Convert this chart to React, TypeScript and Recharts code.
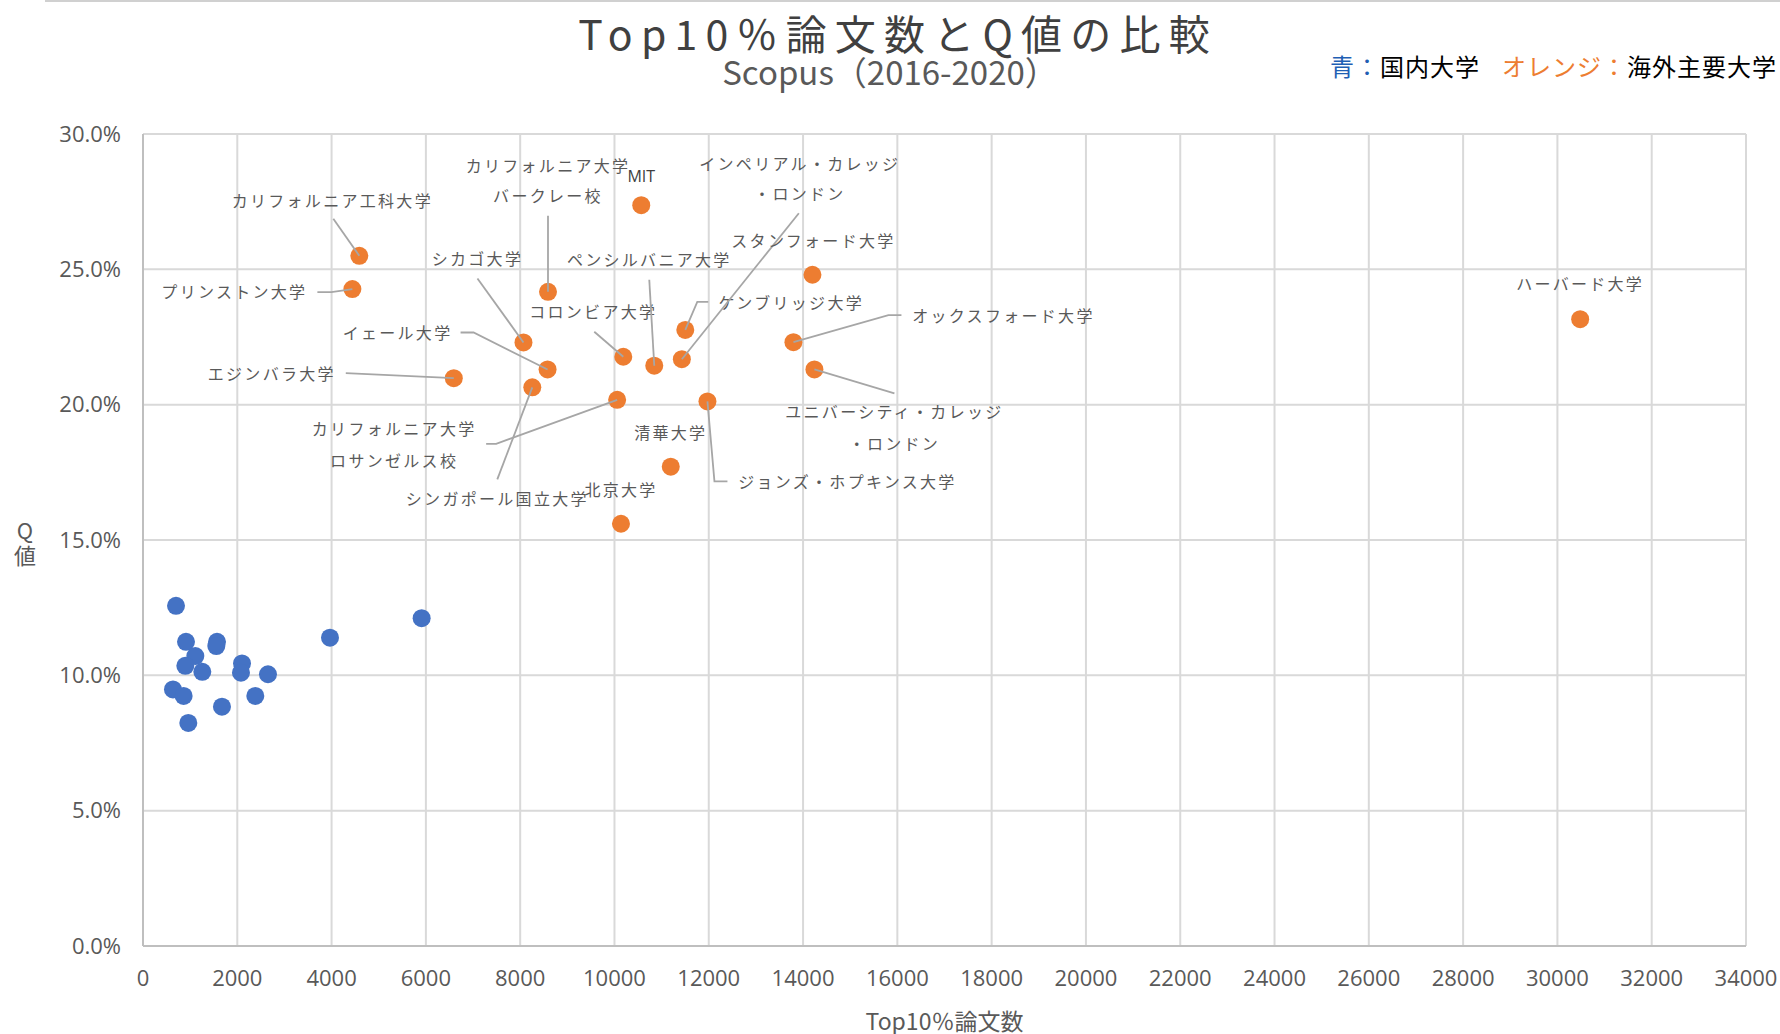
import { ScatterChart, Scatter, XAxis, YAxis, CartesianGrid } from 'recharts'

// 国内大学（青）
const domesticPapers = [700, 912, 1570, 1555, 1110, 898, 1258, 2100, 2078, 2651, 636, 862, 1675, 2382, 961, 3966, 5910]
const domesticQ = [12.57, 11.24, 11.24, 11.08, 10.71, 10.35, 10.13, 10.44, 10.1, 10.04, 9.48, 9.24, 8.84, 9.24, 8.24, 11.39, 12.11]

// 海外主要大学（オレンジ）
const overseasNames = [
  'MIT',
  'カリフォルニア工科大学',
  'プリンストン大学',
  'カリフォルニア大学バークレー校',
  'シカゴ大学',
  'イェール大学',
  'エジンバラ大学',
  'シンガポール国立大学',
  'コロンビア大学',
  'カリフォルニア大学ロサンゼルス校',
  'ペンシルバニア大学',
  'ケンブリッジ大学',
  'インペリアル・カレッジ・ロンドン',
  'ジョンズ・ホプキンス大学',
  '清華大学',
  '北京大学',
  'スタンフォード大学',
  'オックスフォード大学',
  'ユニバーシティ・カレッジ・ロンドン',
  'ハーバード大学',
]
const overseasPapers = [10568, 4588, 4441, 8590, 8070, 8581, 6592, 8257, 10187, 10057, 10844, 11502, 11429, 11972, 11194, 10138, 14199, 13796, 14241, 30483]
const overseasQ = [27.37, 25.5, 24.27, 24.17, 22.3, 21.3, 20.98, 20.64, 21.77, 20.18, 21.44, 22.76, 21.68, 20.12, 17.71, 15.6, 24.8, 22.31, 21.3, 23.16]

const xTicks = [0, 2000, 4000, 6000, 8000, 10000, 12000, 14000, 16000, 18000, 20000, 22000, 24000, 26000, 28000, 30000, 32000, 34000]
const yTicks = [0, 5, 10, 15, 20, 25, 30]

const BLUE = '#4472c4'
const ORANGE = '#ed7d31'
const TEXT = '#595959'
const JP = '"Noto Sans CJK JP", "Noto Sans", sans-serif'
const LATIN = '"Open Sans", "Noto Sans", sans-serif'

const domesticData = domesticPapers.map((x, i) => ({ x, y: domesticQ[i] }))
const overseasData = overseasPapers.map((x, i) => ({ x, y: overseasQ[i], name: overseasNames[i] }))

type Pt = [number, number]
interface LabelSpec {
  lines: string[]
  dx: number
  dy: number[]
  leader?: Pt[]
  latin?: boolean
}

// label placement relative to the dot (pixels)
const labelLayout: Record<string, LabelSpec> = {
  MIT: { lines: ['MIT'], dx: 0, dy: [-29], latin: true },
  'カリフォルニア工科大学': { lines: ['カリフォルニア工科大学'], dx: -27, dy: [-56], leader: [[-26, -37], [0, 0]] },
  'プリンストン大学': { lines: ['プリンストン大学'], dx: -118, dy: [2], leader: [[-35, 3], [-21, 3], [0, 0]] },
  'カリフォルニア大学バークレー校': { lines: ['カリフォルニア大学', 'バークレー校'], dx: 0, dy: [-127, -97], leader: [[0, -76], [0, 0]] },
  'シカゴ大学': { lines: ['シカゴ大学'], dx: -46, dy: [-84], leader: [[-46, -64], [0, 0]] },
  'イェール大学': { lines: ['イェール大学'], dx: -150, dy: [-37], leader: [[-87, -37], [-74, -37], [0, 0]] },
  'エジンバラ大学': { lines: ['エジンバラ大学'], dx: -182, dy: [-5], leader: [[-108, -5], [0, 0]] },
  'シンガポール国立大学': { lines: ['シンガポール国立大学'], dx: -35, dy: [111], leader: [[-35, 92], [0, 0]] },
  'コロンビア大学': { lines: ['コロンビア大学'], dx: -30, dy: [-46], leader: [[-29, -25], [0, 0]] },
  'カリフォルニア大学ロサンゼルス校': { lines: ['カリフォルニア大学', 'ロサンゼルス校'], dx: -223, dy: [28, 60], leader: [[-131, 44], [-121, 44], [0, 0]] },
  'ペンシルバニア大学': { lines: ['ペンシルバニア大学'], dx: -5, dy: [-107], leader: [[-5, -86], [0, 0]] },
  'ケンブリッジ大学': { lines: ['ケンブリッジ大学'], dx: 106, dy: [-28], leader: [[23, -28], [12, -28], [0, 0]] },
  'インペリアル・カレッジ・ロンドン': { lines: ['インペリアル・カレッジ', '・ロンドン'], dx: 118, dy: [-196, -166], leader: [[117, -146], [0, 0]] },
  'ジョンズ・ホプキンス大学': { lines: ['ジョンズ・ホプキンス大学'], dx: 140, dy: [80], leader: [[20, 80], [7, 80], [0, 0]] },
  '清華大学': { lines: ['清華大学'], dx: 0, dy: [-35] },
  '北京大学': { lines: ['北京大学'], dx: 0, dy: [-35] },
  'スタンフォード大学': { lines: ['スタンフォード大学'], dx: 1, dy: [-35] },
  'オックスフォード大学': { lines: ['オックスフォード大学'], dx: 210, dy: [-27], leader: [[108, -27], [95, -27], [0, 0]] },
  'ユニバーシティ・カレッジ・ロンドン': { lines: ['ユニバーシティ・カレッジ', '・ロンドン'], dx: 80, dy: [42, 74], leader: [[80, 24], [0, 0]] },
  'ハーバード大学': { lines: ['ハーバード大学'], dx: 0, dy: [-36] },
}

function DomesticDot(props: any) {
  const { cx, cy } = props
  return <circle cx={cx} cy={cy} r={9} fill={BLUE} />
}

function OverseasDot(props: any) {
  const { cx, cy, payload } = props
  const spec = labelLayout[payload.name]
  return (
    <g>
      <circle cx={cx} cy={cy} r={9} fill={ORANGE} />
      {spec?.leader && (
        <polyline
          points={spec.leader.map(([a, b]) => `${cx + a},${cy + b}`).join(' ')}
          fill="none"
          stroke="#a6a6a6"
          strokeWidth={1.8}
        />
      )}
      {spec?.lines.map((t, i) => (
        <text
          key={i}
          x={cx + spec.dx}
          y={cy + spec.dy[i]}
          textAnchor="middle"
          dominantBaseline="central"
          fontFamily={spec.latin ? LATIN : JP}
          fontSize={16}
          letterSpacing={spec.latin ? 0 : 2.3}
          fill={spec.latin ? '#404040' : TEXT}
        >
          {t}
        </text>
      ))}
    </g>
  )
}

export default function App() {
  return (
    <div style={{ position: 'absolute', left: 0, top: 0, width: 1780, height: 1034, background: '#fff', overflow: 'hidden' }}>
      <div style={{ position: 'absolute', left: 45, right: 0, top: 0, height: 2, background: '#d0d0d0' }} />
      <div
        style={{
          position: 'absolute',
          left: 0,
          width: 1780,
          top: 10,
          textAlign: 'center',
          fontFamily: JP,
          fontSize: 41,
          letterSpacing: 8.2,
          color: '#404040',
          lineHeight: '44px',
          paddingLeft: 8,
        }}
      >
        Top10％論文数とQ値の比較
      </div>
      <div
        style={{
          position: 'absolute',
          left: 0,
          width: 1780,
          top: 55,
          textAlign: 'center',
          fontFamily: JP,
          fontSize: 33,
          color: TEXT,
          lineHeight: '32px',
        }}
      >
        Scopus（2016-2020）
      </div>
      <div
        style={{
          position: 'absolute',
          left: 1330,
          top: 50,
          whiteSpace: 'nowrap',
          fontFamily: JP,
          fontSize: 24,
          letterSpacing: 1,
          lineHeight: '32px',
          color: '#000',
        }}
      >
        <span style={{ color: '#1f5fb4' }}>青：</span>
        国内大学
        <span style={{ color: ORANGE, marginLeft: 22 }}>オレンジ：</span>
        海外主要大学
      </div>
      <div
        style={{
          position: 'absolute',
          left: 13,
          top: 518,
          width: 24,
          textAlign: 'center',
          fontFamily: JP,
          fontSize: 22,
          lineHeight: '22px',
          color: TEXT,
        }}
      >
        Q
      </div>
      <div
        style={{
          position: 'absolute',
          left: 13,
          top: 543,
          width: 24,
          textAlign: 'center',
          fontFamily: JP,
          fontSize: 22,
          lineHeight: '22px',
          color: TEXT,
        }}
      >
        値
      </div>
      <div
        style={{
          position: 'absolute',
          left: 143,
          width: 1603,
          top: 1008,
          textAlign: 'center',
          fontFamily: JP,
          fontSize: 23,
          lineHeight: '24px',
          color: TEXT,
        }}
      >
        Top10％論文数
      </div>
      <ScatterChart width={1780} height={1034} margin={{ top: 134, right: 34, bottom: 48, left: 73 }}>
        <CartesianGrid stroke="#d9d9d9" strokeWidth={2} />
        <XAxis
          type="number"
          dataKey="x"
          domain={[0, 34000]}
          ticks={xTicks}
          interval={0}
          height={40}
          tickLine={false}
          tickSize={0}
          tickMargin={24}
          axisLine={{ stroke: '#bfbfbf', strokeWidth: 2 }}
          tick={{ fontSize: 22, fill: TEXT, fontFamily: LATIN }}
        />
        <YAxis
          type="number"
          dataKey="y"
          domain={[0, 30]}
          ticks={yTicks}
          interval={0}
          width={70}
          tickLine={false}
          tickSize={0}
          tickMargin={22}
          tickFormatter={(v: number) => `${v.toFixed(1)}%`}
          axisLine={{ stroke: '#bfbfbf', strokeWidth: 2 }}
          tick={{ fontSize: 22, fill: TEXT, fontFamily: LATIN }}
        />
        <Scatter data={domesticData} fill={BLUE} shape={DomesticDot} isAnimationActive={false} />
        <Scatter data={overseasData} fill={ORANGE} shape={OverseasDot} isAnimationActive={false} />
      </ScatterChart>
    </div>
  )
}
